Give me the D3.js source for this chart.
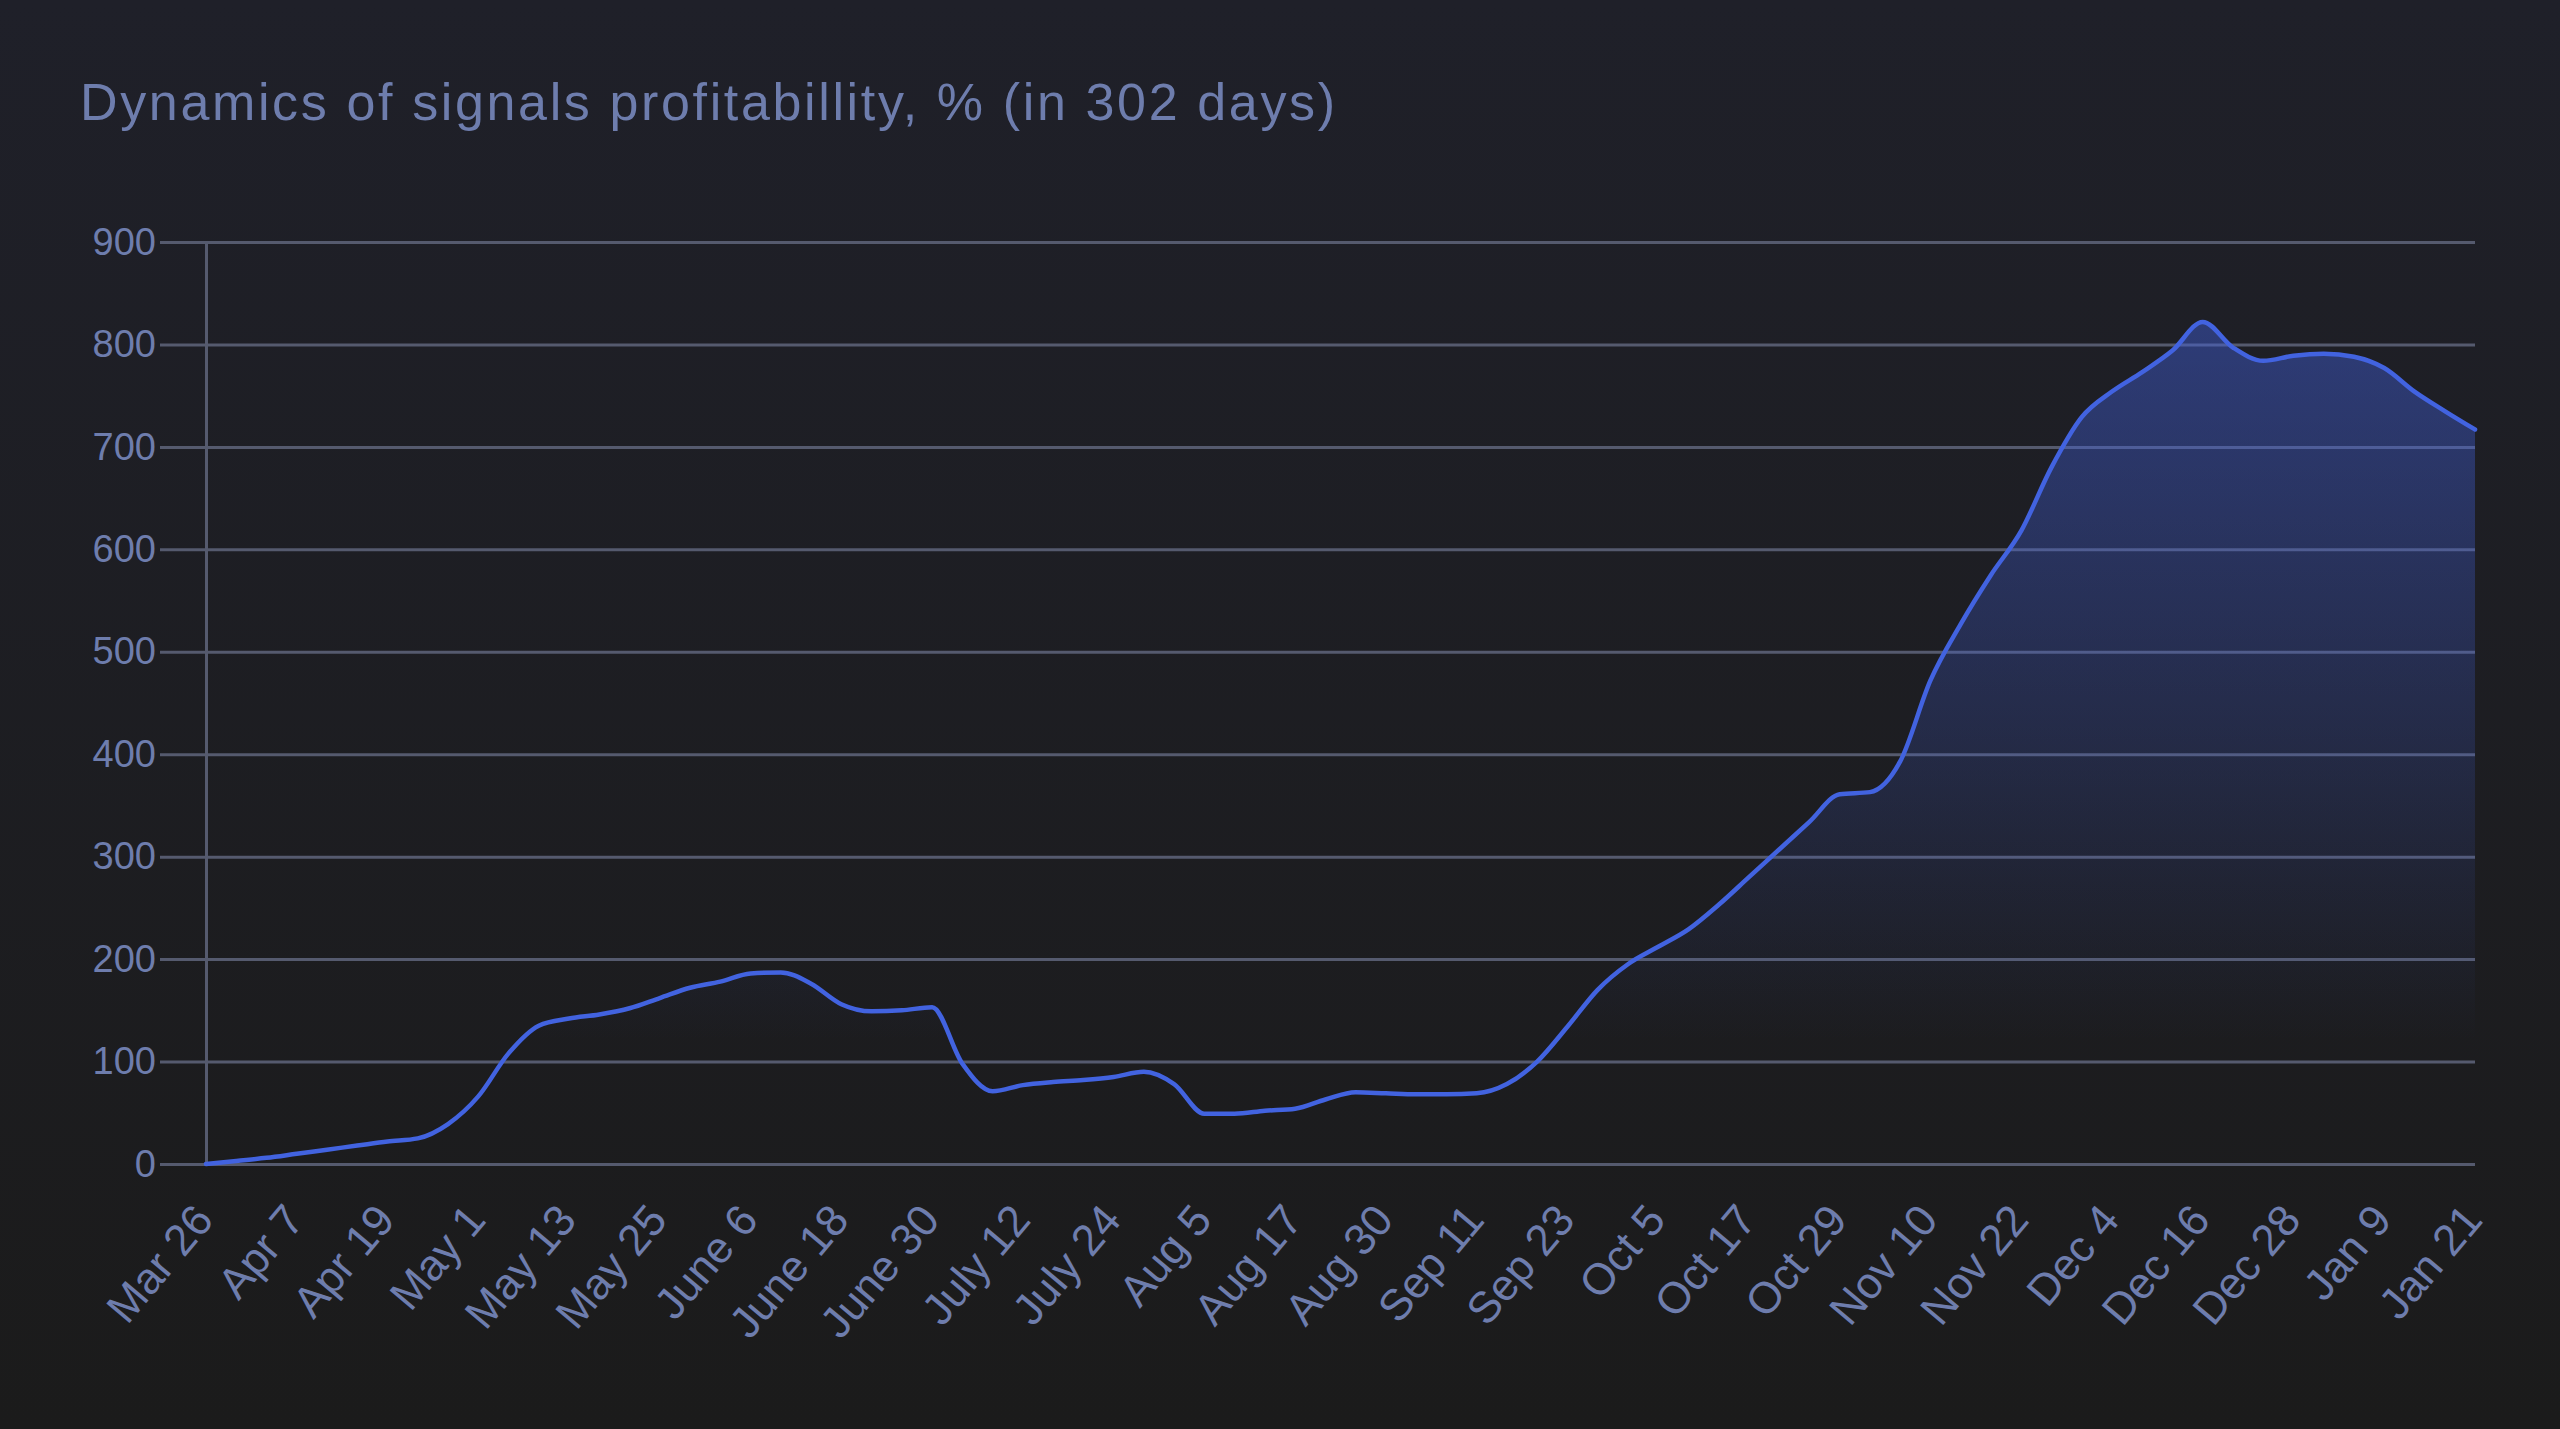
<!DOCTYPE html>
<html>
<head>
<meta charset="utf-8">
<script src="https://cdn.jsdelivr.net/npm/d3@7/dist/d3.min.js"></script>
<style>
  html, body { margin: 0; padding: 0; background: #1c1c1c; overflow: hidden; }
  svg { display: block; }
</style>
</head>
<body>
<svg id="chart" width="2560" height="1429"></svg>
<script>
// ---------------- data ----------------
const chartTitle = "Dynamics of signals profitabillity, % (in 302 days)";
const dayIndexMax = 300;          // category index of the last day
const labelStep = 12;             // one label every 12 categories
const sampleStep = 4;             // values below are read every 4 categories
const tickLabels = ["Mar 26","Apr 7","Apr 19","May 1","May 13","May 25","June 6","June 18",
  "June 30","July 12","July 24","Aug 5","Aug 17","Aug 30","Sep 11","Sep 23","Oct 5",
  "Oct 17","Oct 29","Nov 10","Nov 22","Dec 4","Dec 16","Dec 28","Jan 9","Jan 21"];
const yTickValues = [0,100,200,300,400,500,600,700,800,900];
const profit = [
  0, 3, 6, 10, 14, 18, 22, 25, 39, 66,
  108, 135, 142, 146, 152, 162, 172, 178, 186, 187,
  176, 156, 149, 150, 153, 98, 71, 77, 80, 82,
  85, 90, 78, 49, 49, 52, 54, 63, 70, 69,
  68, 68, 69, 78, 100, 134, 170, 195, 212, 229,
  253, 280, 307, 334, 361, 363, 393, 472, 527, 575,
  618, 680, 729, 754, 773, 794, 822, 797, 784, 789,
  791, 788, 777, 754, 735, 717
];

// ---------------- layout ----------------
const W = 2560, H = 1429;
const plotLeft = 206, plotRight = 2475, plotTop = 242, plotBottom = 1164;
const gridStart = 160;
const textColor = "#6e7dad";
const gridColor = "#555a6e";
const lineColor = "#4263e0";
const font = "'Liberation Sans', Arial, Helvetica, sans-serif";

const svg = d3.select("#chart");
const defs = svg.append("defs");

const bg = defs.append("linearGradient").attr("id", "bgGrad")
  .attr("x1", 0).attr("y1", 0).attr("x2", 0).attr("y2", 1);
bg.append("stop").attr("offset", "0%").attr("stop-color", "#1f2029");
bg.append("stop").attr("offset", "100%").attr("stop-color", "#1b1b1b");
svg.append("rect").attr("width", W).attr("height", H).attr("fill", "url(#bgGrad)");

const x = d3.scaleLinear().domain([0, dayIndexMax]).range([plotLeft, plotRight]);
const y = d3.scaleLinear().domain([0, 900]).range([plotBottom, plotTop]);

// fill gradient
const fg = defs.append("linearGradient").attr("id", "fillGrad")
  .attr("gradientUnits", "userSpaceOnUse")
  .attr("x1", 0).attr("x2", 0).attr("y1", y(830)).attr("y2", y(120));
fg.append("stop").attr("offset", "0%").attr("stop-color", "rgb(66,98,226)").attr("stop-opacity", 0.44);
fg.append("stop").attr("offset", "55%").attr("stop-color", "rgb(66,98,226)").attr("stop-opacity", 0.21);
fg.append("stop").attr("offset", "100%").attr("stop-color", "rgb(66,98,226)").attr("stop-opacity", 0);

// title
const titleText = svg.append("text")
  .attr("x", 80).attr("y", 120)
  .attr("fill", textColor)
  .style("font-family", font)
  .style("font-size", "52px")
  .text(chartTitle);
const targetW = 1255;
const natural = titleText.node().getComputedTextLength();
titleText.style("letter-spacing", Math.max(0, (targetW - natural) / (chartTitle.length - 1)) + "px");

// horizontal grid + y labels
const yGrid = svg.append("g")
  .attr("transform", `translate(${plotRight},0)`)
  .call(d3.axisLeft(y).tickValues(yTickValues)
    .tickSizeInner(plotRight - gridStart).tickSizeOuter(0).tickPadding(4));
yGrid.select(".domain").remove();
yGrid.selectAll(".tick line").attr("stroke", gridColor).attr("stroke-width", 3);
yGrid.selectAll(".tick text")
  .attr("fill", textColor)
  .style("font-family", font)
  .style("font-size", "38px");

// vertical axis line
const yAxisLine = svg.append("g")
  .attr("transform", `translate(${plotLeft},0)`)
  .call(d3.axisLeft(y).tickValues([]).tickSizeOuter(0));
yAxisLine.select(".domain").attr("stroke", gridColor).attr("stroke-width", 3);

// area + line
const pts = profit.map((v, i) => [i * sampleStep, v]);
const area = d3.area()
  .x(d => x(d[0])).y0(y(0)).y1(d => y(d[1]))
  .curve(d3.curveMonotoneX);
const line = d3.line()
  .x(d => x(d[0])).y(d => y(d[1]))
  .curve(d3.curveMonotoneX);

svg.append("path").datum(pts).attr("d", area).attr("fill", "url(#fillGrad)");
svg.append("path").datum(pts).attr("d", line)
  .attr("fill", "none").attr("stroke", lineColor)
  .attr("stroke-width", 4.5).attr("stroke-linejoin", "round").attr("stroke-linecap", "round");

// x axis labels
const xAxis = svg.append("g")
  .attr("transform", `translate(0,${plotBottom})`)
  .call(d3.axisBottom(x)
    .tickValues(d3.range(0, dayIndexMax + 1, labelStep))
    .tickFormat(d => tickLabels[Math.round(d / labelStep)])
    .tickSize(0));
xAxis.select(".domain").remove();
xAxis.selectAll(".tick text")
  .attr("x", 0).attr("y", 0).attr("dy", "0.35em")
  .attr("text-anchor", "end")
  .attr("transform", "translate(-3,47) rotate(-50)")
  .attr("fill", textColor)
  .style("font-family", font)
  .style("font-size", "44px");
</script>
</body>
</html>
